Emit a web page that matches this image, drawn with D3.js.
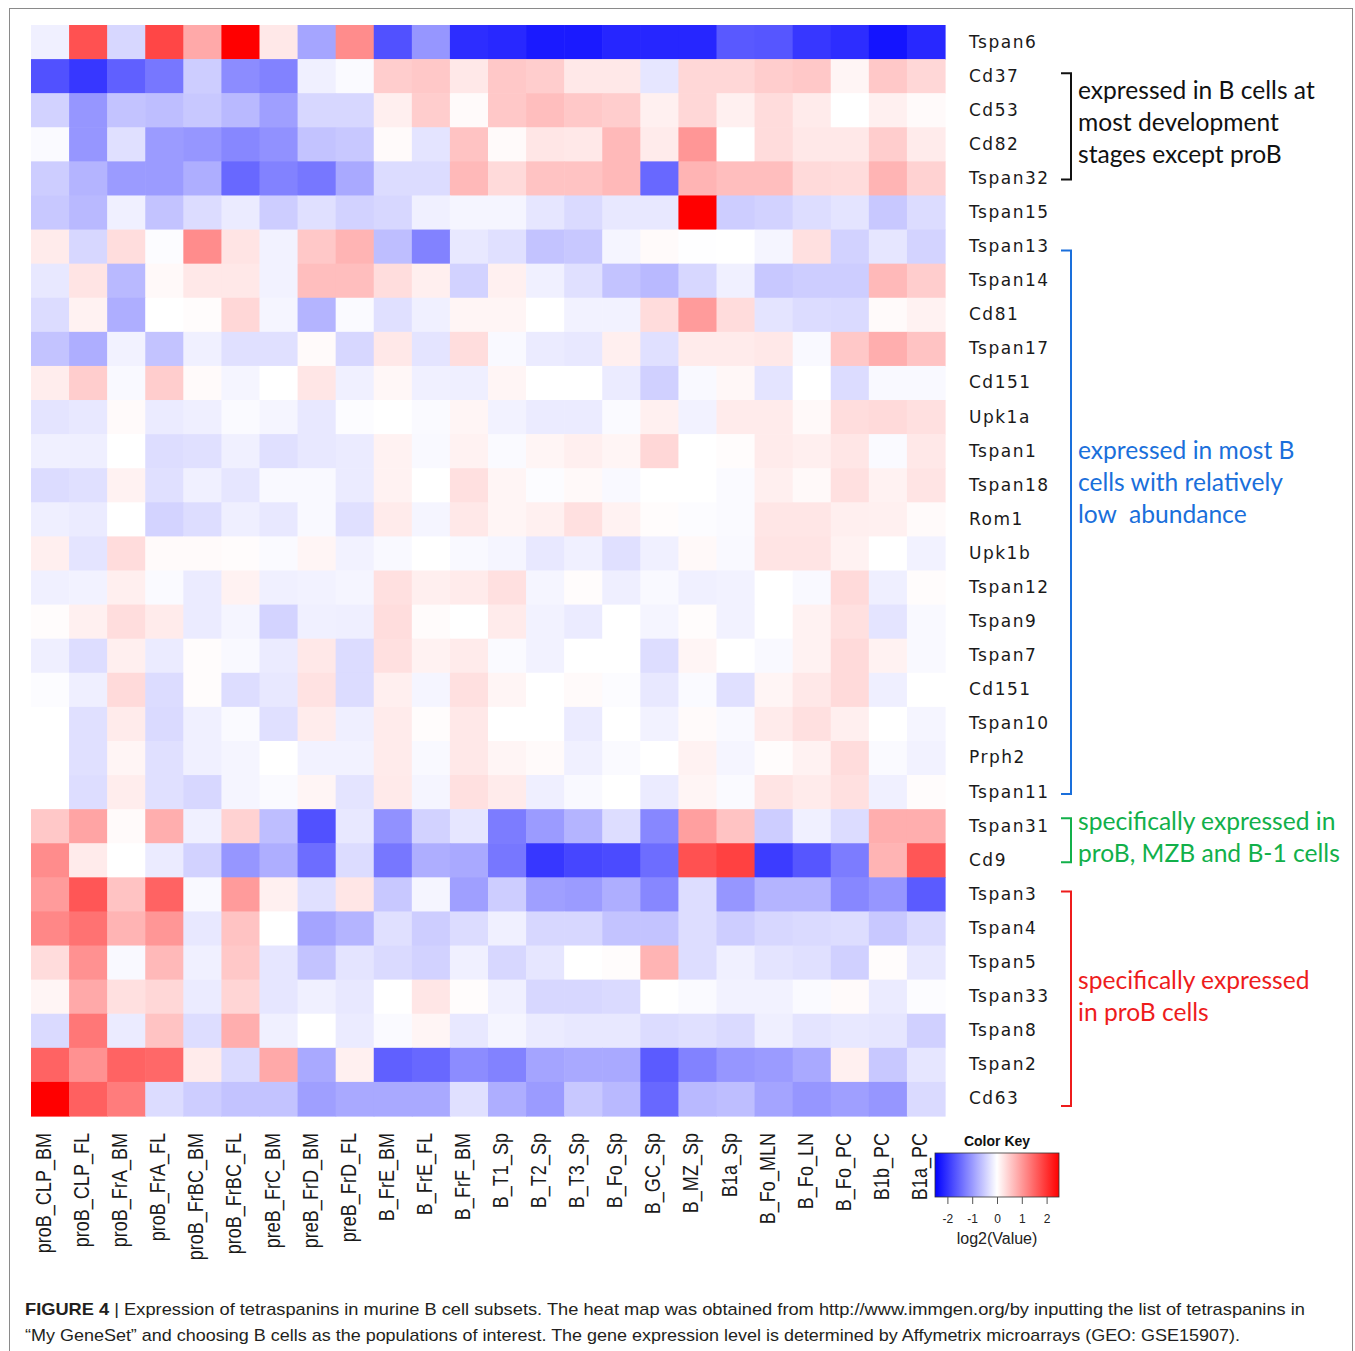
<!DOCTYPE html>
<html><head><meta charset="utf-8">
<script src="https://cdn.jsdelivr.net/npm/d3@7"></script>
<style>
html,body{margin:0;padding:0;background:#fff;}
svg{display:block;}
</style></head>
<body>
<svg id="chart" width="1355" height="1351"></svg>
<script>
const genes = ["Tspan6","Cd37","Cd53","Cd82","Tspan32","Tspan15","Tspan13","Tspan14","Cd81","Tspan17","Cd151","Upk1a","Tspan1","Tspan18","Rom1","Upk1b","Tspan12","Tspan9","Tspan7","Cd151","Tspan10","Prph2","Tspan11","Tspan31","Cd9","Tspan3","Tspan4","Tspan5","Tspan33","Tspan8","Tspan2","Cd63"];
const cellTypes = ["proB_CLP_BM","proB_CLP_FL","proB_FrA_BM","proB_FrA_FL","proB_FrBC_BM","proB_FrBC_FL","preB_FrC_BM","preB_FrD_BM","preB_FrD_FL","B_FrE_BM","B_FrE_FL","B_FrF_BM","B_T1_Sp","B_T2_Sp","B_T3_Sp","B_Fo_Sp","B_GC_Sp","B_MZ_Sp","B1a_Sp","B_Fo_MLN","B_Fo_LN","B_Fo_PC","B1b_PC","B1a_PC"];
// log2(Value), one row per gene, columns follow cellTypes
const expression = [
[-0.15,1.71,-0.39,1.81,0.84,2.5,0.23,-0.88,1.13,-1.71,-1.03,-2.06,-2.11,-2.25,-2.25,-2.13,-2.13,-2.13,-1.63,-1.66,-1.96,-2.06,-2.3,-2.11],
[-1.71,-1.96,-1.56,-1.33,-0.49,-1.13,-1.23,-0.15,-0.05,0.49,0.54,0.23,0.54,0.49,0.23,0.23,-0.25,0.39,0.39,0.49,0.54,0.1,0.54,0.39],
[-0.44,-1.03,-0.59,-0.64,-0.54,-0.69,-0.94,-0.39,-0.39,0.16,0.49,0.05,0.54,0.64,0.54,0.49,0.15,0.39,0.15,0.34,0.2,0,0.15,0.05],
[-0.05,-1.03,-0.3,-0.98,-1.03,-1.18,-1.08,-0.59,-0.54,0.05,-0.26,0.59,0.05,0.25,0.23,0.69,0.2,1.03,0,0.34,0.23,0.23,0.49,0.2],
[-0.49,-0.74,-0.98,-0.98,-0.79,-1.48,-1.23,-1.33,-0.84,-0.34,-0.34,0.69,0.36,0.59,0.59,0.69,-1.48,0.74,0.64,0.64,0.36,0.34,0.74,0.44],
[-0.54,-0.69,-0.15,-0.59,-0.34,-0.2,-0.49,-0.3,-0.44,-0.39,-0.15,-0.1,-0.1,-0.25,-0.36,-0.23,-0.23,2.5,-0.49,-0.44,-0.33,-0.26,-0.54,-0.34],
[0.2,-0.39,0.33,-0.03,1.13,0.26,-0.13,0.54,0.74,-0.64,-1.23,-0.23,-0.3,-0.59,-0.54,-0.1,0.05,-0.01,0,-0.1,0.3,-0.44,-0.25,-0.43],
[-0.23,0.26,-0.69,0.06,0.23,0.23,-0.13,0.64,0.64,0.33,0.16,-0.44,0.15,-0.15,-0.3,-0.59,-0.69,-0.39,-0.15,-0.54,-0.49,-0.49,0.69,0.49],
[-0.34,0.13,-0.79,0,0.03,0.39,-0.1,-0.74,-0.05,-0.3,-0.15,0.1,0.1,0,-0.13,-0.13,0.34,0.98,0.34,-0.26,-0.34,-0.36,0.05,0.13],
[-0.59,-0.79,-0.13,-0.59,-0.15,-0.3,-0.3,0.05,-0.39,0.23,-0.26,0.33,-0.06,-0.2,-0.23,0.16,-0.3,0.2,0.2,0.23,-0.06,0.54,0.79,0.59],
[0.18,0.49,-0.06,0.49,0.05,-0.1,0,0.25,-0.15,0.08,-0.15,-0.16,0.1,0,0,-0.2,-0.46,-0.06,0.08,-0.26,0,-0.34,-0.06,-0.06],
[-0.26,-0.23,0.05,-0.2,-0.16,-0.05,-0.1,-0.23,-0.03,0,-0.05,0.1,-0.13,-0.2,-0.2,-0.05,0.15,-0.13,0.2,0.2,0.06,0.33,0.36,0.3],
[-0.15,-0.16,0,-0.33,-0.3,-0.15,-0.3,-0.23,-0.2,0.13,-0.06,0.13,-0.05,0.1,0.16,0.1,0.39,0,0.03,0.2,0.16,0.25,-0.05,0.23],
[-0.34,-0.3,0.13,-0.3,-0.15,-0.25,-0.06,-0.06,-0.2,0.13,0,0.3,0.1,-0.03,0.06,-0.06,0,0,-0.05,0.16,0.06,0.3,0.13,0.26],
[-0.16,-0.2,0,-0.43,-0.33,-0.16,-0.23,-0.06,-0.3,0.2,-0.1,0.23,0.1,0.15,0.3,0.13,0.03,-0.03,-0.05,0.25,0.25,0.16,0.15,0.05],
[0.16,-0.26,0.34,0.05,0.05,0.03,-0.05,0.1,-0.13,-0.06,0,-0.06,-0.1,-0.23,-0.15,-0.3,-0.15,0.06,-0.06,0.26,0.26,0.13,0,-0.13],
[-0.15,-0.13,0.16,-0.05,-0.2,0.13,-0.15,-0.13,-0.1,0.3,0.16,0.2,0.3,-0.1,0.03,-0.16,-0.06,-0.15,-0.13,0,-0.06,0.36,-0.16,0.03],
[0.03,0.15,0.33,0.2,-0.2,-0.1,-0.43,-0.15,-0.16,0.33,0.04,0,0.2,-0.13,-0.2,0,-0.1,0.03,-0.13,0,0.13,0.3,-0.26,-0.06],
[-0.16,-0.33,0.16,-0.2,0.03,-0.06,-0.2,0.23,-0.34,0.3,0.13,0.2,-0.05,-0.13,0,0,-0.33,0.1,0,-0.06,0.13,0.36,0.13,-0.06],
[-0.03,-0.16,0.36,-0.34,0.03,-0.33,-0.23,0.28,-0.34,0.16,-0.1,0.3,0.1,0,0.05,-0.03,-0.23,-0.05,-0.3,0.1,0.23,0.36,-0.16,0],
[0,-0.3,0.2,-0.36,-0.15,-0.05,-0.3,0.19,-0.16,0.2,0.03,0.23,0,0,-0.2,0,-0.13,0.05,-0.06,0.2,0.3,0.16,0,-0.1],
[0,-0.3,0.1,-0.3,-0.15,-0.1,0,-0.13,-0.13,0.2,-0.06,0.23,0.1,0.05,-0.15,-0.05,0,0.13,-0.1,0.03,0.13,0.34,-0.05,-0.13],
[0,-0.33,0.18,-0.3,-0.39,-0.1,-0.05,0.1,-0.26,0.21,-0.1,0.3,0.2,-0.16,-0.06,0,-0.2,0.1,-0.05,0.26,0.2,0.3,-0.15,0.03],
[0.54,0.89,0.05,0.79,-0.15,0.44,-0.64,-1.71,-0.23,-1.08,-0.44,-0.25,-1.28,-0.98,-0.74,-0.33,-1.18,0.94,0.59,-0.49,-0.15,-0.34,0.79,0.79],
[1.13,0.2,0,-0.2,-0.44,-1.03,-0.79,-1.43,-0.34,-1.33,-0.79,-0.84,-1.33,-1.96,-1.81,-1.76,-1.43,1.71,1.86,-1.91,-1.66,-1.28,0.74,1.66],
[0.98,1.66,0.59,1.53,-0.06,0.98,0.15,-0.3,0.25,-0.54,-0.1,-0.94,-0.49,-0.94,-0.98,-0.79,-1.18,-0.33,-1.03,-0.74,-0.74,-1.18,-1.03,-1.61],
[1.18,1.38,0.74,1.03,-0.23,0.59,0,-0.89,-0.74,-0.3,-0.49,-0.34,-0.15,-0.39,-0.39,-0.59,-0.59,-0.33,-0.49,-0.39,-0.36,-0.33,-0.54,-0.36],
[0.34,1.08,-0.06,0.69,-0.15,0.54,-0.25,-0.59,-0.26,-0.36,-0.44,-0.15,-0.39,-0.25,0,0.03,0.74,-0.33,-0.15,-0.26,-0.3,-0.46,0.03,-0.23],
[0.1,0.84,0.3,0.39,-0.2,0.41,-0.25,-0.15,-0.23,0,0.25,0.03,-0.15,-0.39,-0.39,-0.36,0,-0.05,-0.13,-0.13,-0.05,0.05,-0.2,-0.03],
[-0.36,1.33,-0.2,0.59,-0.33,0.79,-0.15,0,-0.2,-0.05,0.1,-0.23,-0.1,-0.2,-0.23,-0.23,-0.34,-0.3,-0.36,-0.16,-0.26,-0.23,-0.25,-0.46],
[1.53,1.08,1.53,1.48,0.2,-0.36,0.84,-0.84,0.15,-1.56,-1.48,-1.13,-1.23,-0.89,-0.84,-0.84,-1.61,-1.23,-1.03,-0.98,-0.84,0.15,-0.54,-0.25],
[2.5,1.56,1.28,-0.34,-0.49,-0.59,-0.59,-0.94,-0.84,-0.84,-0.84,-0.3,-0.79,-0.98,-0.54,-0.69,-1.48,-0.69,-0.64,-0.89,-1.03,-0.94,-1.03,-0.36]
];
const keyTicks = [-2,-1,0,1,2];
const groupNotes = [
  {from:1, to:4, color:"#111111", lines:["expressed in B cells at","most development","stages except proB"]},
  {from:6, to:22, color:"#1a6fdb", lines:["expressed in most B","cells with relatively","low  abundance"]},
  {from:23, to:24, color:"#12b04a", lines:["specifically expressed in","proB, MZB and B-1 cells"]},
  {from:25, to:31, color:"#ee1c1c", lines:["specifically expressed","in proB cells"]}
];
const captionBold = "FIGURE 4";
const captionLines = [
  " | Expression of tetraspanins in murine B cell subsets. The heat map was obtained from http://www.immgen.org/by inputting the list of tetraspanins in",
  "\u201CMy GeneSet\u201D and choosing B cells as the populations of interest. The gene expression level is determined by Affymetrix microarrays (GEO: GSE15907)."
];

// layout (positions only)
const noteFirstBaseline = [99, 459, 830, 989];
const noteBracketPad = [[-3,1],[4,2],[-8,2],[-3,7]];

const svg = d3.select("#chart");
svg.append("rect").attr("x",9.5).attr("y",8.5).attr("width",1343).attr("height",1360)
  .attr("fill","none").attr("stroke","#8a8a8a").attr("stroke-width",1);

const x = d3.scaleBand().domain(d3.range(cellTypes.length)).range([31,945]);
const y = d3.scaleBand().domain(d3.range(genes.length)).range([25,1116]);
const color = d3.scaleLinear().domain([-2.5,0,2.5]).range(["#0000ff","#ffffff","#ff0000"]).clamp(true);

const cells = [];
expression.forEach((row,i)=>row.forEach((v,j)=>cells.push({i,j,v})));
svg.append("g").selectAll("rect").data(cells).join("rect")
  .attr("x",d=>x(d.j)).attr("y",d=>y(d.i))
  .attr("width",x.bandwidth()+0.6).attr("height",y.bandwidth()+0.6)
  .attr("fill",d=>color(d.v));

// row labels
const rowAxis = d3.axisRight(y).tickSize(0).tickPadding(24).tickFormat(i=>genes[i]);
const ga = svg.append("g").attr("transform","translate(945,0)").call(rowAxis);
ga.select(".domain").remove();
ga.selectAll("text").attr("font-family","DejaVu Sans").attr("font-size",17)
  .attr("letter-spacing","1.5px").attr("fill","#1a1a1a");

// column labels (narrow face emulated by horizontal scaling along the text)
const colAxis = d3.axisBottom(x).tickSize(0).tickPadding(0).tickFormat(j=>cellTypes[j]);
const gc = svg.append("g").attr("transform","translate(0,1133)").call(colAxis);
gc.select(".domain").remove();
gc.selectAll("text").attr("font-family","Liberation Sans").attr("font-size",22).attr("fill","#1a1a1a")
  .attr("text-anchor","end").attr("dy",null).attr("y",0)
  .attr("transform","translate(1,0) rotate(-90) scale(0.82,1)");

// brackets and notes
const notes = svg.append("g");
groupNotes.forEach((g,gi)=>{
  const y0 = y(g.from)+y.bandwidth()/2+noteBracketPad[gi][0], y1 = y(g.to)+y.bandwidth()/2+noteBracketPad[gi][1];
  notes.append("path").attr("d",`M1061,${y0}H1071V${y1}H1061`)
    .attr("fill","none").attr("stroke",g.color).attr("stroke-width",2);
  g.lines.forEach((t,k)=>{
    notes.append("text").attr("x",1078).attr("y",noteFirstBaseline[gi]+k*32)
      .style("white-space","pre")
      .attr("font-family","Lato").attr("font-size",24.6).attr("fill",g.color).text(t);
  });
});

// color key
const kx = d3.scaleLinear().domain([-2.5,2.5]).range([935,1059]);
const defs = svg.append("defs");
const grad = defs.append("linearGradient").attr("id","keygrad");
d3.range(0,1.0001,0.05).forEach(t=>{
  grad.append("stop").attr("offset",t).attr("stop-color",color(-2.5+5*t));
});
const key = svg.append("g");
key.append("text").attr("x",997).attr("y",1146).attr("text-anchor","middle")
  .attr("font-family","Liberation Sans").attr("font-weight","bold").attr("font-size",14).attr("fill","#111").text("Color Key");
key.append("rect").attr("x",935).attr("y",1153).attr("width",124).attr("height",44)
  .attr("fill","url(#keygrad)").attr("stroke","#333").attr("stroke-width",0.8);
const keyAxis = d3.axisBottom(kx).tickValues(keyTicks).tickSize(7).tickPadding(10).tickFormat(d3.format("d"));
const gk = key.append("g").attr("transform","translate(0,1197)").call(keyAxis);
gk.select(".domain").remove();
gk.selectAll("line").attr("stroke","#555");
gk.selectAll("text").attr("font-family","Liberation Sans").attr("font-size",12).attr("fill","#222")
  .text(d=>d<0?"-"+Math.abs(d):d);
key.append("text").attr("x",997).attr("y",1244).attr("text-anchor","middle")
  .attr("font-family","Liberation Sans").attr("font-size",16).attr("fill","#222").text("log2(Value)");

// caption
const cap = svg.append("g").attr("font-family","Liberation Sans").attr("font-size",17).attr("fill","#231f20");
const t1 = cap.append("text").attr("x",25).attr("y",1315).attr("textLength",1280).attr("lengthAdjust","spacingAndGlyphs");
t1.append("tspan").attr("font-weight","bold").text(captionBold);
t1.append("tspan").text(captionLines[0]);
cap.append("text").attr("x",25).attr("y",1341).attr("textLength",1215).attr("lengthAdjust","spacingAndGlyphs").text(captionLines[1]);
</script>
</body></html>
